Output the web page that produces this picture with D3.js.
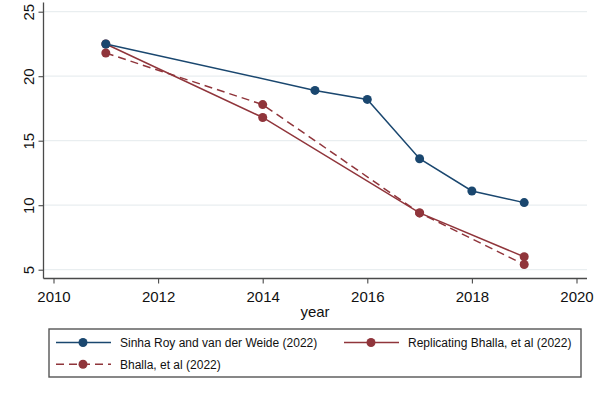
<!DOCTYPE html>
<html>
<head>
<meta charset="utf-8">
<script src="https://cdn.jsdelivr.net/npm/d3@7"></script>
<style>
  body { margin: 0; background: #fff; }
  svg { display: block; font-family: "Liberation Sans", Arial, sans-serif; }
</style>
</head>
<body>
<div id="chart"></div>
<script>
// data
var sinhaYears = [2011, 2015, 2016, 2017, 2018, 2019];
var sinhaValues = [22.5, 18.9, 18.2, 13.6, 11.1, 10.2];
var replYears = [2011, 2014, 2017, 2019];
var replValues = [22.5, 16.8, 9.4, 6.0];
var bhallaYears = [2011, 2014, 2017, 2019];
var bhallaValues = [21.8, 17.8, 9.4, 5.4];
var xTicks = [2010, 2012, 2014, 2016, 2018, 2020];
var yTicks = [5, 10, 15, 20, 25];
var seriesNames = ["Sinha Roy and van der Weide (2022)", "Replicating Bhalla, et al (2022)", "Bhalla, et al (2022)"];

var navy = "#1a476f";
var maroon = "#90353b";

var width = 602, height = 399;
var plot = { left: 43.5, right: 587, top: 2.5, bottom: 278.5 };

var svg = d3.select("#chart").append("svg")
    .attr("width", width)
    .attr("height", height);

var x = d3.scaleLinear()
    .domain([2010, 2020])
    .range([53.5, 576.5]);

var y = d3.scaleLinear()
    .domain([5, 25])
    .range([269.7, 11.7]);

// gridlines
svg.append("g")
    .selectAll("line")
    .data(yTicks)
    .enter()
    .append("line")
    .attr("x1", plot.left)
    .attr("x2", plot.right)
    .attr("y1", function (d) { return y(d); })
    .attr("y2", function (d) { return y(d); })
    .attr("stroke", "#e9eef0")
    .attr("stroke-width", 1.2);

// axes
var xAxis = svg.append("g")
    .attr("transform", "translate(0," + plot.bottom + ")")
    .call(d3.axisBottom(x).tickValues(xTicks).tickFormat(d3.format("d")).tickSize(5).tickSizeOuter(0));
xAxis.select(".domain").attr("d", "M" + plot.left + ",0H" + plot.right);

var yAxis = svg.append("g")
    .attr("transform", "translate(" + plot.left + ",0)")
    .call(d3.axisLeft(y).tickValues(yTicks).tickSize(5).tickSizeOuter(0));
yAxis.select(".domain").attr("d", "M0," + plot.top + "V" + plot.bottom);

svg.selectAll(".domain").attr("stroke", "#4a4a4a").attr("stroke-width", 1.3);
svg.selectAll(".tick line").attr("stroke", "#4a4a4a").attr("stroke-width", 1.1);
svg.selectAll(".tick text").attr("fill", "#111").style("font-size", "15px");

xAxis.selectAll(".tick text").attr("dy", "0").attr("y", 23.5);
yAxis.selectAll(".tick text")
    .attr("x", 0).attr("dy", "0")
    .attr("text-anchor", "middle")
    .attr("transform", function () { return "translate(-10,0) rotate(-90)"; })
    .attr("y", 0);

svg.append("text")
    .attr("x", 315)
    .attr("y", 317)
    .attr("text-anchor", "middle")
    .style("font-size", "15px")
    .attr("fill", "#111")
    .text("year");

// series
var line = d3.line()
    .x(function (d) { return x(d[0]); })
    .y(function (d) { return y(d[1]); });

function drawSeries(years, values, color, dash) {
    var pts = d3.zip(years, values);
    svg.append("path")
        .datum(pts)
        .attr("d", line)
        .attr("fill", "none")
        .attr("stroke", color)
        .attr("stroke-width", 1.5)
        .attr("stroke-dasharray", dash);
    svg.append("g")
        .selectAll("circle")
        .data(pts)
        .enter()
        .append("circle")
        .attr("cx", function (d) { return x(d[0]); })
        .attr("cy", function (d) { return y(d[1]); })
        .attr("r", 4.5)
        .attr("fill", color);
}

drawSeries(bhallaYears, bhallaValues, maroon, "8,5");
drawSeries(replYears, replValues, maroon, null);
drawSeries(sinhaYears, sinhaValues, navy, null);

// legend
svg.append("rect")
    .attr("x", 49)
    .attr("y", 329)
    .attr("width", 532)
    .attr("height", 48)
    .attr("fill", "#fff")
    .attr("stroke", "#555")
    .attr("stroke-width", 1.4);

var legendItems = [
    { name: seriesNames[0], color: navy, dash: null, lx: 56, ly: 342.5 },
    { name: seriesNames[1], color: maroon, dash: null, lx: 344, ly: 342.5 },
    { name: seriesNames[2], color: maroon, dash: "8,5", lx: 56, ly: 364.3 }
];

var legend = svg.selectAll(".legend")
    .data(legendItems)
    .enter()
    .append("g")
    .attr("class", "legend")
    .attr("transform", function (d) { return "translate(" + d.lx + "," + d.ly + ")"; });

legend.append("line")
    .attr("x1", 0)
    .attr("x2", 55)
    .attr("stroke", function (d) { return d.color; })
    .attr("stroke-width", 1.5)
    .attr("stroke-dasharray", function (d) { return d.dash; });

legend.append("circle")
    .attr("cx", 27)
    .attr("r", 4.5)
    .attr("fill", function (d) { return d.color; });

legend.append("text")
    .attr("x", 64)
    .attr("y", 4.3)
    .style("font-size", "12px")
    .attr("fill", "#111")
    .text(function (d) { return d.name; });
</script>
</body>
</html>
